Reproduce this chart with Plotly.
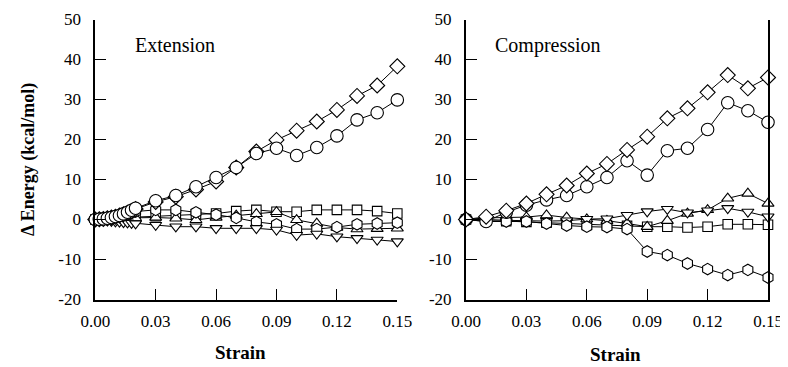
import plotly.graph_objects as go

# ---------------- data ----------------
ext_strain = [0.000, 0.002, 0.004, 0.006, 0.008, 0.010, 0.012, 0.014, 0.016, 0.018, 0.020,
              0.03, 0.04, 0.05, 0.06, 0.07, 0.08, 0.09, 0.10, 0.11, 0.12, 0.13, 0.14, 0.15]
ext_diamond = [0, 0.05, 0.15, 0.3, 0.5, 0.7, 1.0, 1.3, 1.7, 2.1, 2.6,
               4.4, 5.7, 7.5, 9.5, 13.0, 17.0, 19.9, 22.2, 24.5, 27.4, 30.9, 33.5, 38.3]
ext_circle = [0, 0.05, 0.15, 0.3, 0.5, 0.75, 1.0, 1.4, 1.8, 2.3, 2.8,
              4.7, 6.0, 8.2, 10.5, 13.0, 16.5, 17.8, 16.0, 18.0, 20.9, 24.9, 26.7, 29.9]
ext_square = [0, 0.0, 0.1, 0.1, 0.2, 0.2, 0.3, 0.3, 0.4, 0.5, 0.6,
              0.8, 1.0, 1.3, 1.5, 2.1, 2.4, 1.95, 1.95, 2.4, 2.4, 2.4, 2.1, 1.5]
ext_hexagon = [0, 0.1, 0.2, 0.3, 0.5, 0.6, 0.8, 1.0, 1.3, 1.6, 2.0,
               2.4, 2.4, 1.8, 1.2, 0.4, -0.6, -1.2, -2.4, -2.4, -1.9, -1.2, -1.0, -0.8]
ext_tri_up = [0, 0.0, 0.0, 0.1, 0.1, 0.2, 0.2, 0.3, 0.3, 0.4, 0.4,
              0.5, 0.3, -0.1, 0.5, 1.0, 1.4, 1.9, -0.1, -1.0, -2.0, -2.4, -2.3, -2.2]
ext_tri_down = [0, -0.1, -0.2, -0.3, -0.4, -0.5, -0.6, -0.7, -0.8, -0.9, -1.0,
                -1.4, -1.8, -1.8, -2.2, -2.2, -2.2, -2.6, -3.9, -3.6, -4.3, -4.7, -5.1, -5.5]

comp_strain = [0.00, 0.01, 0.02, 0.03, 0.04, 0.05, 0.06, 0.07, 0.08, 0.09, 0.10,
               0.11, 0.12, 0.13, 0.14, 0.15]
comp_diamond = [0, 0.7, 2.2, 4.0, 6.3, 8.5, 11.5, 13.9, 17.4, 20.7, 25.3, 27.8, 31.8, 36.1, 32.8, 35.5]
comp_circle = [0, -0.5, 1.8, 3.6, 4.9, 6.0, 8.2, 10.5, 14.7, 11.1, 17.2, 17.8, 22.5, 29.2, 27.2, 24.3]
comp_tri_up = [0, 0.4, 0.5, 0.6, 1.1, 0.5, 0.1, -0.3, -1.0, -1.8, -0.3, 1.5, 2.4, 5.3, 6.5, 4.0]
comp_tri_down = [0, 0.0, -0.2, -0.3, -0.4, -0.3, 0.1, 0.2, 1.1, 2.0, 2.6, 1.7, 2.2, 2.8, 1.9, 0.7]
comp_square = [0, -0.3, -0.4, -0.6, -0.8, -1.0, -1.2, -1.4, -1.6, -1.8, -1.8, -2.0, -1.8, -1.2, -1.2, -1.3]
comp_hexagon = [0, -0.5, -0.5, -0.5, -1.0, -1.5, -1.8, -1.9, -2.4, -8.0, -8.9, -11.0, -12.4, -13.9, -12.6, -14.5]

x_tickvals = [0.00, 0.03, 0.06, 0.09, 0.12, 0.15]
x_ticktext = ["0.00", "0.03", "0.06", "0.09", "0.12", "0.15"]
y_tickvals = [-20, -10, 0, 10, 20, 30, 40, 50]
y_ticktext = ["-20", "-10", "0", "10", "20", "30", "40", "50"]

panel_titles = ["Extension", "Compression"]
x_title = "Strain"
y_title = "\u0394 Energy (kcal/mol)"

# ---------------- figure ----------------
# the page body has an 8 px margin, so the figure is drawn 8 px in from the window corner
OFF = 8
W, H = 788 - OFF, 367 - OFF
FONT = "Liberation Serif"

fig = go.Figure()

symbols = {
    "diamond": ("diamond", 11.5),
    "circle": ("circle", 12.5),
    "square": ("square", 9.5),
    "tri_up": ("triangle-up", 10.5),
    "tri_down": ("triangle-down", 10.5),
    "hexagon": ("hexagon", 11.5),
}

ext_series = [("square", ext_square), ("tri_up", ext_tri_up), ("hexagon", ext_hexagon),
              ("tri_down", ext_tri_down), ("diamond", ext_diamond), ("circle", ext_circle)]
comp_series = [("square", comp_square), ("tri_up", comp_tri_up), ("tri_down", comp_tri_down),
               ("hexagon", comp_hexagon), ("circle", comp_circle), ("diamond", comp_diamond)]


def add(xs, ys, key, xa, ya):
    sym, size = symbols[key]
    fig.add_trace(go.Scatter(
        x=xs, y=ys, mode="lines+markers", xaxis=xa, yaxis=ya,
        line=dict(color="black", width=1),
        marker=dict(symbol=sym, size=size, color="white",
                    line=dict(color="black", width=1.1)),
        cliponaxis=False, showlegend=False, hoverinfo="x+y"))


for key, ys in ext_series:
    add(ext_strain, ys, key, "x", "y")
for key, ys in comp_series:
    add(comp_strain, ys, key, "x2", "y2")

# pixel geometry (window coordinates)
lx0, lx1 = 95.3, 397.3
rx0, rx1 = 466.0, 768.0
ytop, ybot = 19.5, 299.5

def fx(px):
    return (px - OFF) / W

def fy(py):
    return (H - (py - OFF)) / H

axis_common = dict(showgrid=False, zeroline=False, showline=True, linecolor="black",
                   linewidth=2, ticks="inside", tickcolor="black", tickwidth=1,
                   ticklen=11, automargin=False,
                   tickfont=dict(family=FONT, size=17, color="black"))

fig.update_layout(
    width=W, height=H,
    margin=dict(l=0, r=0, t=0, b=0, pad=0, autoexpand=False),
    paper_bgcolor="white", plot_bgcolor="white",
    xaxis=dict(domain=[fx(lx0), fx(lx1)], range=[0, 0.15], anchor="y",
               tickvals=x_tickvals, ticktext=x_ticktext, ticklabelstandoff=5, **axis_common),
    yaxis=dict(domain=[fy(ybot), fy(ytop)], range=[-20, 50], anchor="x",
               tickvals=y_tickvals, ticktext=y_ticktext, ticklabelstandoff=9, **axis_common),
    xaxis2=dict(domain=[fx(rx0), fx(rx1)], range=[0, 0.15], anchor="y2",
                tickvals=x_tickvals, ticktext=x_ticktext, ticklabelstandoff=5, **axis_common),
    yaxis2=dict(domain=[fy(ybot), fy(ytop)], range=[-20, 50], anchor="x2", mirror=True,
                tickvals=y_tickvals, ticktext=y_ticktext, ticklabelstandoff=9, **axis_common),
)

annos = [
    dict(text=panel_titles[0], x=fx(133), y=fy(45), xanchor="left", yanchor="middle",
         font=dict(family=FONT, size=20, color="black")),
    dict(text=panel_titles[1], x=fx(493), y=fy(45), xanchor="left", yanchor="middle",
         font=dict(family=FONT, size=20, color="black")),
    dict(text="<b>" + x_title + "</b>", x=fx(240), y=fy(352), xanchor="center", yanchor="middle",
         font=dict(family=FONT, size=19, color="black")),
    dict(text="<b>" + x_title + "</b>", x=fx(615), y=fy(354), xanchor="center", yanchor="middle",
         font=dict(family=FONT, size=19, color="black")),
    dict(text="<b>" + y_title + "</b>", x=fx(28), y=fy(160), xanchor="center", yanchor="middle",
         textangle=-90, font=dict(family=FONT, size=18, color="black")),
]
for a in annos:
    a.update(xref="paper", yref="paper", showarrow=False)
fig.update_layout(annotations=annos)

fig.write_html("out.html")
